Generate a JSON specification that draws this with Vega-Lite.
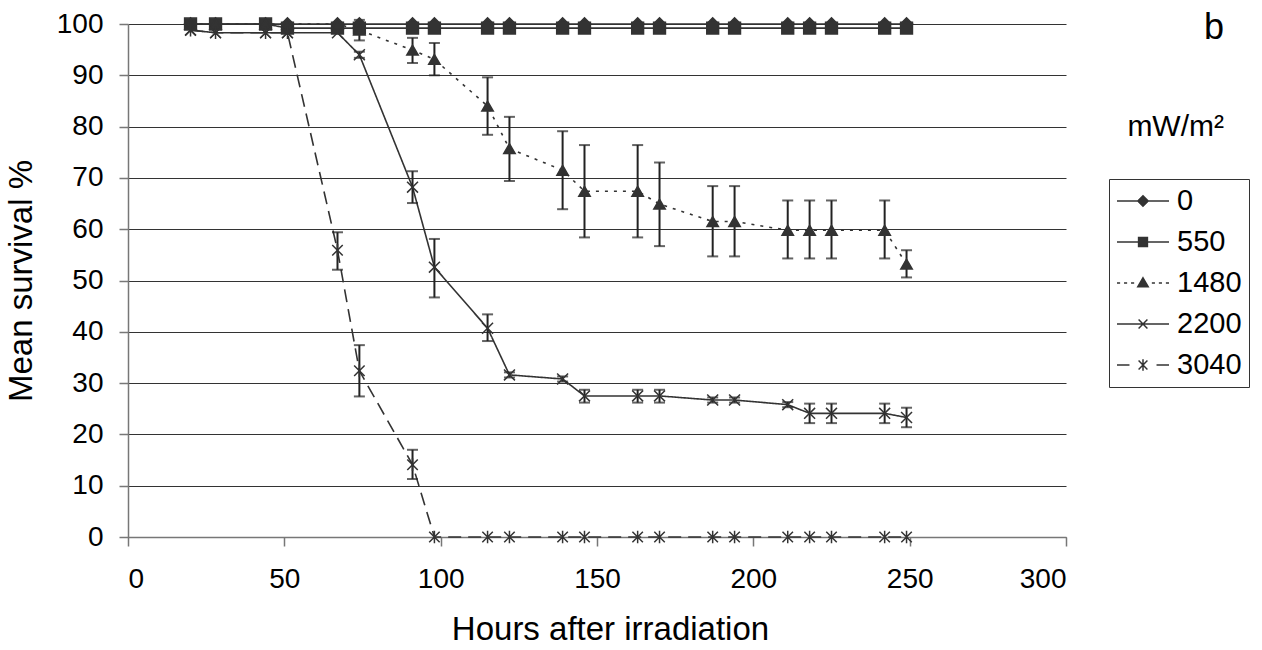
{
  "$schema": "https://vega.github.io/schema/vega-lite/v6.json",
  "autosize": "none",
  "width": 938,
  "height": 513,
  "padding": {"left": 128, "top": 24, "right": 196, "bottom": 113},
  "background": "white",
  "title": {
    "text": "b",
    "subtitle": "mW/m²",
    "anchor": "end",
    "frame": "group",
    "orient": "top",
    "offset": -133,
    "dx": 158,
    "font": "Liberation Sans",
    "fontSize": 36,
    "fontWeight": "normal",
    "color": "#000",
    "subtitleFont": "Liberation Sans",
    "subtitleFontSize": 30,
    "subtitleColor": "#000",
    "subtitlePadding": 65
  },
  "data": {
    "values": [
      {"s": "0", "t": 20, "v": 100}, {"s": "0", "t": 28, "v": 100}, {"s": "0", "t": 44, "v": 100}, {"s": "0", "t": 51, "v": 100},
      {"s": "0", "t": 67, "v": 100}, {"s": "0", "t": 74, "v": 100}, {"s": "0", "t": 91, "v": 100}, {"s": "0", "t": 98, "v": 100},
      {"s": "0", "t": 115, "v": 100}, {"s": "0", "t": 122, "v": 100}, {"s": "0", "t": 139, "v": 100}, {"s": "0", "t": 146, "v": 100},
      {"s": "0", "t": 163, "v": 100}, {"s": "0", "t": 170, "v": 100}, {"s": "0", "t": 187, "v": 100}, {"s": "0", "t": 194, "v": 100},
      {"s": "0", "t": 211, "v": 100}, {"s": "0", "t": 218, "v": 100}, {"s": "0", "t": 225, "v": 100}, {"s": "0", "t": 242, "v": 100},
      {"s": "0", "t": 249, "v": 100},

      {"s": "550", "t": 20, "v": 100}, {"s": "550", "t": 28, "v": 100}, {"s": "550", "t": 44, "v": 100}, {"s": "550", "t": 51, "v": 99.2},
      {"s": "550", "t": 67, "v": 99.2}, {"s": "550", "t": 74, "v": 99.2}, {"s": "550", "t": 91, "v": 99.2}, {"s": "550", "t": 98, "v": 99.2},
      {"s": "550", "t": 115, "v": 99.2}, {"s": "550", "t": 122, "v": 99.2}, {"s": "550", "t": 139, "v": 99.2}, {"s": "550", "t": 146, "v": 99.2},
      {"s": "550", "t": 163, "v": 99.2}, {"s": "550", "t": 170, "v": 99.2}, {"s": "550", "t": 187, "v": 99.2}, {"s": "550", "t": 194, "v": 99.2},
      {"s": "550", "t": 211, "v": 99.2}, {"s": "550", "t": 218, "v": 99.2}, {"s": "550", "t": 225, "v": 99.2}, {"s": "550", "t": 242, "v": 99.2},
      {"s": "550", "t": 249, "v": 99.2},

      {"s": "1480", "t": 20, "v": 100}, {"s": "1480", "t": 28, "v": 100}, {"s": "1480", "t": 44, "v": 100}, {"s": "1480", "t": 51, "v": 100},
      {"s": "1480", "t": 67, "v": 100},
      {"s": "1480", "t": 74, "v": 98.8, "lo": 96.8, "hi": 100.8},
      {"s": "1480", "t": 91, "v": 94.9, "lo": 92.4, "hi": 97.3},
      {"s": "1480", "t": 98, "v": 93.1, "lo": 90.0, "hi": 96.3},
      {"s": "1480", "t": 115, "v": 84.0, "lo": 78.4, "hi": 89.6},
      {"s": "1480", "t": 122, "v": 75.7, "lo": 69.4, "hi": 81.9},
      {"s": "1480", "t": 139, "v": 71.5, "lo": 63.9, "hi": 79.1},
      {"s": "1480", "t": 146, "v": 67.4, "lo": 58.4, "hi": 76.4},
      {"s": "1480", "t": 163, "v": 67.4, "lo": 58.4, "hi": 76.4},
      {"s": "1480", "t": 170, "v": 64.9, "lo": 56.7, "hi": 73.0},
      {"s": "1480", "t": 187, "v": 61.5, "lo": 54.7, "hi": 68.4},
      {"s": "1480", "t": 194, "v": 61.5, "lo": 54.7, "hi": 68.4},
      {"s": "1480", "t": 211, "v": 59.8, "lo": 54.3, "hi": 65.6},
      {"s": "1480", "t": 218, "v": 59.8, "lo": 54.3, "hi": 65.6},
      {"s": "1480", "t": 225, "v": 59.8, "lo": 54.3, "hi": 65.6},
      {"s": "1480", "t": 242, "v": 59.8, "lo": 54.3, "hi": 65.6},
      {"s": "1480", "t": 249, "v": 53.2, "lo": 50.6, "hi": 55.9},

      {"s": "2200", "t": 20, "v": 98.8}, {"s": "2200", "t": 28, "v": 98.3}, {"s": "2200", "t": 44, "v": 98.3}, {"s": "2200", "t": 51, "v": 98.3},
      {"s": "2200", "t": 67, "v": 98.3},
      {"s": "2200", "t": 74, "v": 94.0, "lo": 93.4, "hi": 94.6},
      {"s": "2200", "t": 91, "v": 68.2, "lo": 65.1, "hi": 71.3},
      {"s": "2200", "t": 98, "v": 52.6, "lo": 46.7, "hi": 58.1},
      {"s": "2200", "t": 115, "v": 40.7, "lo": 38.2, "hi": 43.4},
      {"s": "2200", "t": 122, "v": 31.6, "lo": 31.1, "hi": 32.1},
      {"s": "2200", "t": 139, "v": 30.8, "lo": 30.3, "hi": 31.3},
      {"s": "2200", "t": 146, "v": 27.5, "lo": 26.2, "hi": 28.7},
      {"s": "2200", "t": 163, "v": 27.5, "lo": 26.2, "hi": 28.7},
      {"s": "2200", "t": 170, "v": 27.5, "lo": 26.2, "hi": 28.7},
      {"s": "2200", "t": 187, "v": 26.7, "lo": 26.2, "hi": 27.2},
      {"s": "2200", "t": 194, "v": 26.7, "lo": 26.2, "hi": 27.2},
      {"s": "2200", "t": 211, "v": 25.8, "lo": 25.3, "hi": 26.3},
      {"s": "2200", "t": 218, "v": 24.1, "lo": 22.2, "hi": 26.0},
      {"s": "2200", "t": 225, "v": 24.1, "lo": 22.2, "hi": 26.0},
      {"s": "2200", "t": 242, "v": 24.1, "lo": 22.2, "hi": 26.0},
      {"s": "2200", "t": 249, "v": 23.3, "lo": 21.4, "hi": 25.2},

      {"s": "3040", "t": 20, "v": 98.8}, {"s": "3040", "t": 28, "v": 98.3}, {"s": "3040", "t": 44, "v": 98.3}, {"s": "3040", "t": 51, "v": 98.3},
      {"s": "3040", "t": 67, "v": 55.9, "lo": 52.1, "hi": 59.4},
      {"s": "3040", "t": 74, "v": 32.4, "lo": 27.4, "hi": 37.4},
      {"s": "3040", "t": 91, "v": 14.1, "lo": 11.3, "hi": 17.0},
      {"s": "3040", "t": 98, "v": 0}, {"s": "3040", "t": 115, "v": 0}, {"s": "3040", "t": 122, "v": 0}, {"s": "3040", "t": 139, "v": 0},
      {"s": "3040", "t": 146, "v": 0}, {"s": "3040", "t": 163, "v": 0}, {"s": "3040", "t": 170, "v": 0}, {"s": "3040", "t": 187, "v": 0},
      {"s": "3040", "t": 194, "v": 0}, {"s": "3040", "t": 211, "v": 0}, {"s": "3040", "t": 218, "v": 0}, {"s": "3040", "t": 225, "v": 0},
      {"s": "3040", "t": 242, "v": 0}, {"s": "3040", "t": 249, "v": 0}
    ]
  },
  "encoding": {
    "x": {
      "field": "t", "type": "quantitative", "title": "Hours after irradiation",
      "scale": {"domain": [0, 300], "nice": false, "zero": false},
      "axis": {"values": [0, 50, 100, 150, 200, 250, 300], "grid": false, "tickSize": 9, "labelPadding": 19, "titlePadding": 20, "titleX": 482}
    },
    "y": {
      "field": "v", "type": "quantitative", "title": "Mean survival %",
      "scale": {"domain": [0, 100], "nice": false},
      "axis": {"values": [0, 10, 20, 30, 40, 50, 60, 70, 80, 90, 100], "grid": true, "tickSize": 9, "labelPadding": 16, "titlePadding": 18}
    }
  },
  "layer": [
    {
      "mark": {"type": "line", "color": "#333", "strokeWidth": 1.6},
      "encoding": {
        "strokeDash": {
          "field": "s", "type": "nominal", "legend": null,
          "scale": {"domain": ["0", "550", "1480", "2200", "3040"], "range": [[1, 0], [1, 0], [3, 6], [1, 0], [13, 7]]}
        }
      }
    },
    {
      "transform": [{"filter": "isValid(datum.lo)"}],
      "mark": {"type": "errorbar", "ticks": true, "thickness": 2, "color": "#222", "size": 11},
      "encoding": {
        "y": {"field": "lo", "type": "quantitative", "title": "Mean survival %"},
        "y2": {"field": "hi"}
      }
    },
    {
      "mark": {"type": "point", "filled": true, "fill": "#333", "stroke": "#333", "strokeWidth": 1.5, "opacity": 1},
      "encoding": {
        "shape": {
          "field": "s", "type": "nominal", "legend": null,
          "scale": {"domain": ["0", "550", "1480", "2200", "3040"],
                    "range": ["diamond", "square", "triangle-up", "M-1,-1L1,1M-1,1L1,-1", "M-1,-1L1,1M-1,1L1,-1M0,-1.2L0,1.2"]}
        },
        "size": {
          "field": "s", "type": "nominal", "legend": null,
          "scale": {"domain": ["0", "550", "1480", "2200", "3040"], "range": [150, 110, 150, 100, 90]}
        }
      }
    },
    {
      "transform": [{"filter": "datum.v < -1"}],
      "mark": {"type": "point", "filled": false, "color": "#333", "strokeWidth": 1.5, "opacity": 1},
      "encoding": {
        "fill": {
          "field": "s", "type": "nominal", "legend": null,
          "scale": {"domain": ["0", "550", "1480", "2200", "3040"], "range": ["#333", "#333", "#333", "#333", "#333"]}
        },
        "shape": {
          "field": "s", "type": "nominal",
          "scale": {"domain": ["0", "550", "1480", "2200", "3040"],
                    "range": [
                      "M-1,0L1,0M0,-0.2L0.2,0L0,0.2L-0.2,0Z",
                      "M-1,0L1,0M-0.17,-0.17L0.17,-0.17L0.17,0.17L-0.17,0.17Z",
                      "M-1,0L-0.88,0M-0.73,0L-0.61,0M-0.46,0L-0.34,0M0.34,0L0.46,0M0.61,0L0.73,0M0.88,0L1,0M0,-0.2L0.2,0.14L-0.2,0.14Z",
                      "M-1,0L1,0M-0.17,-0.17L0.17,0.17M-0.17,0.17L0.17,-0.17",
                      "M-1,0L-0.52,0M0.52,0L1,0M-0.17,-0.17L0.17,0.17M-0.17,0.17L0.17,-0.17M0,-0.22L0,0.22"
                    ]},
          "legend": {
            "title": null,
            "orient": "none",
            "legendX": 981,
            "legendY": 155,
            "strokeColor": "#333",
            "padding": 7,
            "labelFont": "Liberation Sans",
            "labelFontSize": 29,
            "labelColor": "#000",
            "labelOffset": 7,
            "symbolSize": 2704,
            "symbolStrokeWidth": 1.5,
            "symbolFillColor": "#333",
            "clipHeight": 30,
            "rowPadding": 11
          }
        }
      }
    }
  ],
  "resolve": {"scale": {"shape": "independent"}, "legend": {"shape": "independent"}},
  "config": {
    "view": {"stroke": null},
    "font": "Liberation Sans",
    "legend": {"symbolBaseFillColor": "#333"},
    "axis": {
      "labelFont": "Liberation Sans",
      "labelFontSize": 28,
      "labelColor": "#000",
      "titleFont": "Liberation Sans",
      "titleFontSize": 33,
      "titleFontWeight": "normal",
      "titleColor": "#000",
      "domainColor": "#777",
      "domainWidth": 1.5,
      "tickColor": "#777",
      "tickWidth": 1.5,
      "gridColor": "#333",
      "gridWidth": 1
    }
  }
}
